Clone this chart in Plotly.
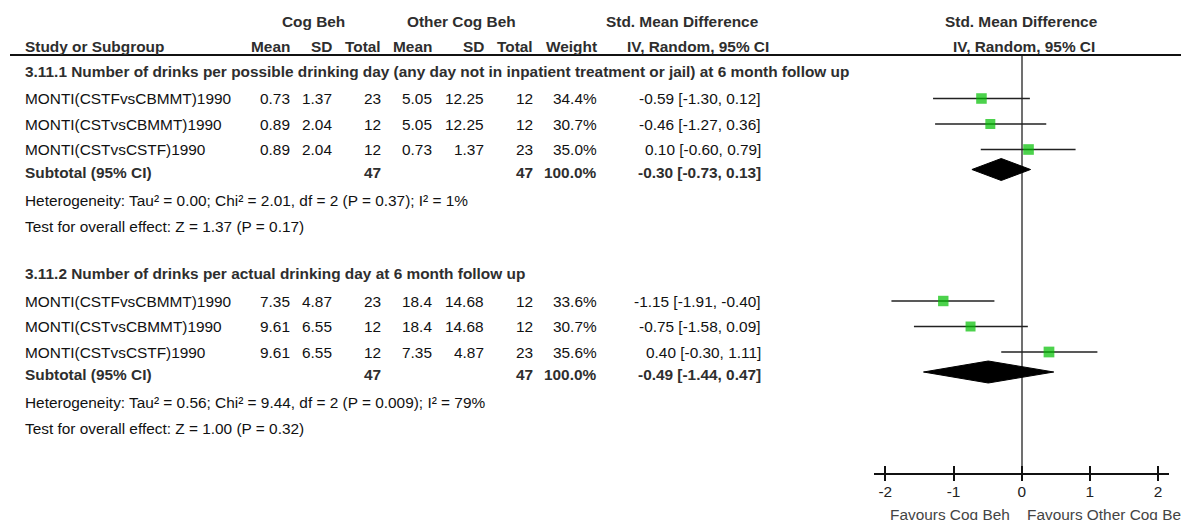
import plotly.graph_objects as go
import numpy as np

# ---------------- data ----------------
group_titles = [
    "3.11.1 Number of drinks per possible drinking day (any day not in inpatient treatment or jail) at 6 month follow up",
    "3.11.2 Number of drinks per actual drinking day at 6 month follow up",
]
studies_g1 = ["MONTI(CSTFvsCBMMT)1990", "MONTI(CSTvsCBMMT)1990", "MONTI(CSTvsCSTF)1990"]
studies_g2 = ["MONTI(CSTFvsCBMMT)1990", "MONTI(CSTvsCBMMT)1990", "MONTI(CSTvsCSTF)1990"]

cb_mean_g1 = ["0.73", "0.89", "0.89"]
cb_sd_g1 = ["1.37", "2.04", "2.04"]
cb_n_g1 = [23, 12, 12]
oc_mean_g1 = ["5.05", "5.05", "0.73"]
oc_sd_g1 = ["12.25", "12.25", "1.37"]
oc_n_g1 = [12, 12, 23]
weight_g1 = [34.4, 30.7, 35.0]
smd_g1 = [-0.59, -0.46, 0.10]
lo_g1 = [-1.30, -1.27, -0.60]
hi_g1 = [0.12, 0.36, 0.79]
sub_g1 = {"n1": 47, "n2": 47, "smd": -0.30, "lo": -0.73, "hi": 0.13}
het_g1 = "Heterogeneity: Tau² = 0.00; Chi² = 2.01, df = 2 (P = 0.37); I² = 1%"
test_g1 = "Test for overall effect: Z = 1.37 (P = 0.17)"

cb_mean_g2 = ["7.35", "9.61", "9.61"]
cb_sd_g2 = ["4.87", "6.55", "6.55"]
cb_n_g2 = [23, 12, 12]
oc_mean_g2 = ["18.4", "18.4", "7.35"]
oc_sd_g2 = ["14.68", "14.68", "4.87"]
oc_n_g2 = [12, 12, 23]
weight_g2 = [33.6, 30.7, 35.6]
smd_g2 = [-1.15, -0.75, 0.40]
lo_g2 = [-1.91, -1.58, -0.30]
hi_g2 = [-0.40, 0.09, 1.11]
sub_g2 = {"n1": 47, "n2": 47, "smd": -0.49, "lo": -1.44, "hi": 0.47}
het_g2 = "Heterogeneity: Tau² = 0.56; Chi² = 9.44, df = 2 (P = 0.009); I² = 79%"
test_g2 = "Test for overall effect: Z = 1.00 (P = 0.32)"

tick_vals = [-2, -1, 0, 1, 2]
fav_left = "Favours Cog Beh"
fav_right = "Favours Other Cog Beh"

groups = [
    dict(title=group_titles[0], studies=studies_g1, m1=cb_mean_g1, s1=cb_sd_g1, n1=cb_n_g1,
         m2=oc_mean_g1, s2=oc_sd_g1, n2=oc_n_g1, w=weight_g1, smd=smd_g1, lo=lo_g1, hi=hi_g1,
         sub=sub_g1, het=het_g1, test=test_g1),
    dict(title=group_titles[1], studies=studies_g2, m1=cb_mean_g2, s1=cb_sd_g2, n1=cb_n_g2,
         m2=oc_mean_g2, s2=oc_sd_g2, n2=oc_n_g2, w=weight_g2, smd=smd_g2, lo=lo_g2, hi=hi_g2,
         sub=sub_g2, het=het_g2, test=test_g2),
]

# ---------------- layout geometry ----------------
OFF = 8                      # page body margin
W, H = 1189 - OFF, 520 - OFF
FONT = "Liberation Sans, Arial, sans-serif"
FS = 15.4
TXT = "#111111"
HDR = "#2e2e2e"

AX_Y = 473          # screen row of the axis line
TOP_Y = 55          # screen row of header rule
X0_PX, SCALE = 1021.7, 68.2
DOM_L, DOM_R = 874, 1169


def px(x):
    return (x - OFF) / W


def py(y):
    return 1 - (y - OFF) / H


group_starts = [71, 273.5]
STUDY_OFF, STUDY_STEP, SUB_GAP, HET_GAP, TEST_GAP = 27.5, 25.5, 22.5, 28, 26

COL = dict(m1=292, s1=334, n1=383, m2=434, s2=486, n2=535, w=599, ci=763)
LEFT = 23

fig = go.Figure()
ann = []


def add_text(x, y, text, anchor="right", bold=False, color=TXT):
    ann.append(dict(x=px(x), y=py(y), xref="paper", yref="paper",
                    text=("<b>%s</b>" % text) if bold else text,
                    showarrow=False, xanchor=anchor, yanchor="middle",
                    font=dict(family=FONT, size=FS, color=color)))


def fmt_ci(s, l, h):
    return "%.2f [%.2f, %.2f]" % (s, l, h)


HY1, HY2 = 21, 46
add_text(313, HY1, "Cog Beh", "center", True, HDR)
add_text(461, HY1, "Other Cog Beh", "center", True, HDR)
add_text(682, HY1, "Std. Mean Difference", "center", True, HDR)
add_text(1021, HY1, "Std. Mean Difference", "center", True, HDR)
add_text(LEFT, HY2, "Study or Subgroup", "left", True, HDR)
for key, lab in [("m1", "Mean"), ("s1", "SD"), ("n1", "Total"), ("m2", "Mean"),
                 ("s2", "SD"), ("n2", "Total"), ("w", "Weight")]:
    add_text(COL[key], HY2, lab, "right", True, HDR)
add_text(698, HY2, "IV, Random, 95% CI", "center", True, HDR)
add_text(1024, HY2, "IV, Random, 95% CI", "center", True, HDR)

for g, y0 in zip(groups, group_starts):
    add_text(LEFT, y0, g["title"], "left", True, HDR)
    ys = [y0 + STUDY_OFF + STUDY_STEP * i for i in range(len(g["studies"]))]
    for i, yy in enumerate(ys):
        add_text(LEFT, yy, g["studies"][i], "left")
        add_text(COL["m1"], yy, g["m1"][i])
        add_text(COL["s1"], yy, g["s1"][i])
        add_text(COL["n1"], yy, str(g["n1"][i]))
        add_text(COL["m2"], yy, g["m2"][i])
        add_text(COL["s2"], yy, g["s2"][i])
        add_text(COL["n2"], yy, str(g["n2"][i]))
        add_text(COL["w"], yy, "%.1f%%" % g["w"][i])
        add_text(COL["ci"], yy, fmt_ci(g["smd"][i], g["lo"][i], g["hi"][i]))
    ysub = ys[-1] + SUB_GAP
    s = g["sub"]
    add_text(LEFT, ysub, "Subtotal (95% CI)", "left", True, HDR)
    add_text(COL["n1"], ysub, str(s["n1"]), "right", True, HDR)
    add_text(COL["n2"], ysub, str(s["n2"]), "right", True, HDR)
    add_text(COL["w"], ysub, "100.0%", "right", True, HDR)
    add_text(COL["ci"], ysub, fmt_ci(s["smd"], s["lo"], s["hi"]), "right", True, HDR)
    yhet = ysub + HET_GAP
    add_text(LEFT, yhet, g["het"], "left")
    add_text(LEFT, yhet + TEST_GAP, g["test"], "left")

    smd = np.array(g["smd"]); lo = np.array(g["lo"]); hi = np.array(g["hi"])
    w = np.array(g["w"])
    fig.add_trace(go.Scatter(
        x=smd, y=ys, mode="markers", xaxis="x", yaxis="y",
        marker=dict(symbol="square", color="#00bf00", size=np.sqrt(w) * 1.8, line=dict(width=0)),
        error_x=dict(type="data", symmetric=False, array=hi - smd, arrayminus=smd - lo,
                     color="#222222", thickness=1.7, width=0),
        showlegend=False, hoverinfo="skip"))
    half = 11
    yc = ysub - 2.5
    fig.add_trace(go.Scatter(
        x=[s["lo"], s["smd"], s["hi"], s["smd"], s["lo"]],
        y=[yc, yc - half, yc, yc + half, yc],
        mode="lines", fill="toself", fillcolor="black", line=dict(color="black", width=1),
        showlegend=False, hoverinfo="skip"))

add_text(1012, 514, fav_left, "right", False, "#444444")
add_text(1025, 514, fav_right, "left", False, "#444444")

x_range = [(DOM_L - X0_PX) / SCALE, (DOM_R - X0_PX) / SCALE]
x_dom = [px(DOM_L), px(DOM_R)]
y_dom = [py(AX_Y), py(TOP_Y)]

tick_common = dict(domain=x_dom, range=x_range, anchor="y", overlaying="x", matches="x",
                   showline=False, tickwidth=1.5, tickcolor="#111111", tickvals=tick_vals,
                   showticklabels=False, showgrid=False, zeroline=False, side="bottom",
                   fixedrange=True)

fig.update_layout(
    width=W, height=H, autosize=False,
    margin=dict(l=0, r=0, t=0, b=0),
    paper_bgcolor="white", plot_bgcolor="white",
    annotations=ann,
    shapes=[dict(type="line", xref="paper", yref="paper", x0=px(10), x1=px(1183),
                 y0=py(TOP_Y), y1=py(TOP_Y), line=dict(color="#111111", width=2))],
    xaxis=dict(domain=x_dom, range=x_range, anchor="y", showline=True, linecolor="#111111",
               linewidth=1.5, ticks="outside", ticklen=4, tickwidth=1.5, tickcolor="rgba(0,0,0,0)",
               tickvals=tick_vals, ticktext=[str(v) for v in tick_vals],
               tickfont=dict(family=FONT, size=FS, color="#222222"),
               showgrid=False, zeroline=True, zerolinecolor="#707070", zerolinewidth=1.5,
               fixedrange=True),
    xaxis2=dict(ticks="outside", ticklen=7, **tick_common),
    xaxis3=dict(ticks="inside", ticklen=7, **tick_common),
    yaxis=dict(domain=y_dom, range=[AX_Y, TOP_Y], visible=False, showgrid=False, zeroline=False,
               fixedrange=True),
)
for ax in ["x2", "x3"]:
    fig.add_trace(go.Scatter(x=[tick_vals[0]], y=[AX_Y], xaxis=ax, yaxis="y", mode="markers",
                             marker=dict(opacity=0), showlegend=False, hoverinfo="skip"))

fig.write_html("out.html")
